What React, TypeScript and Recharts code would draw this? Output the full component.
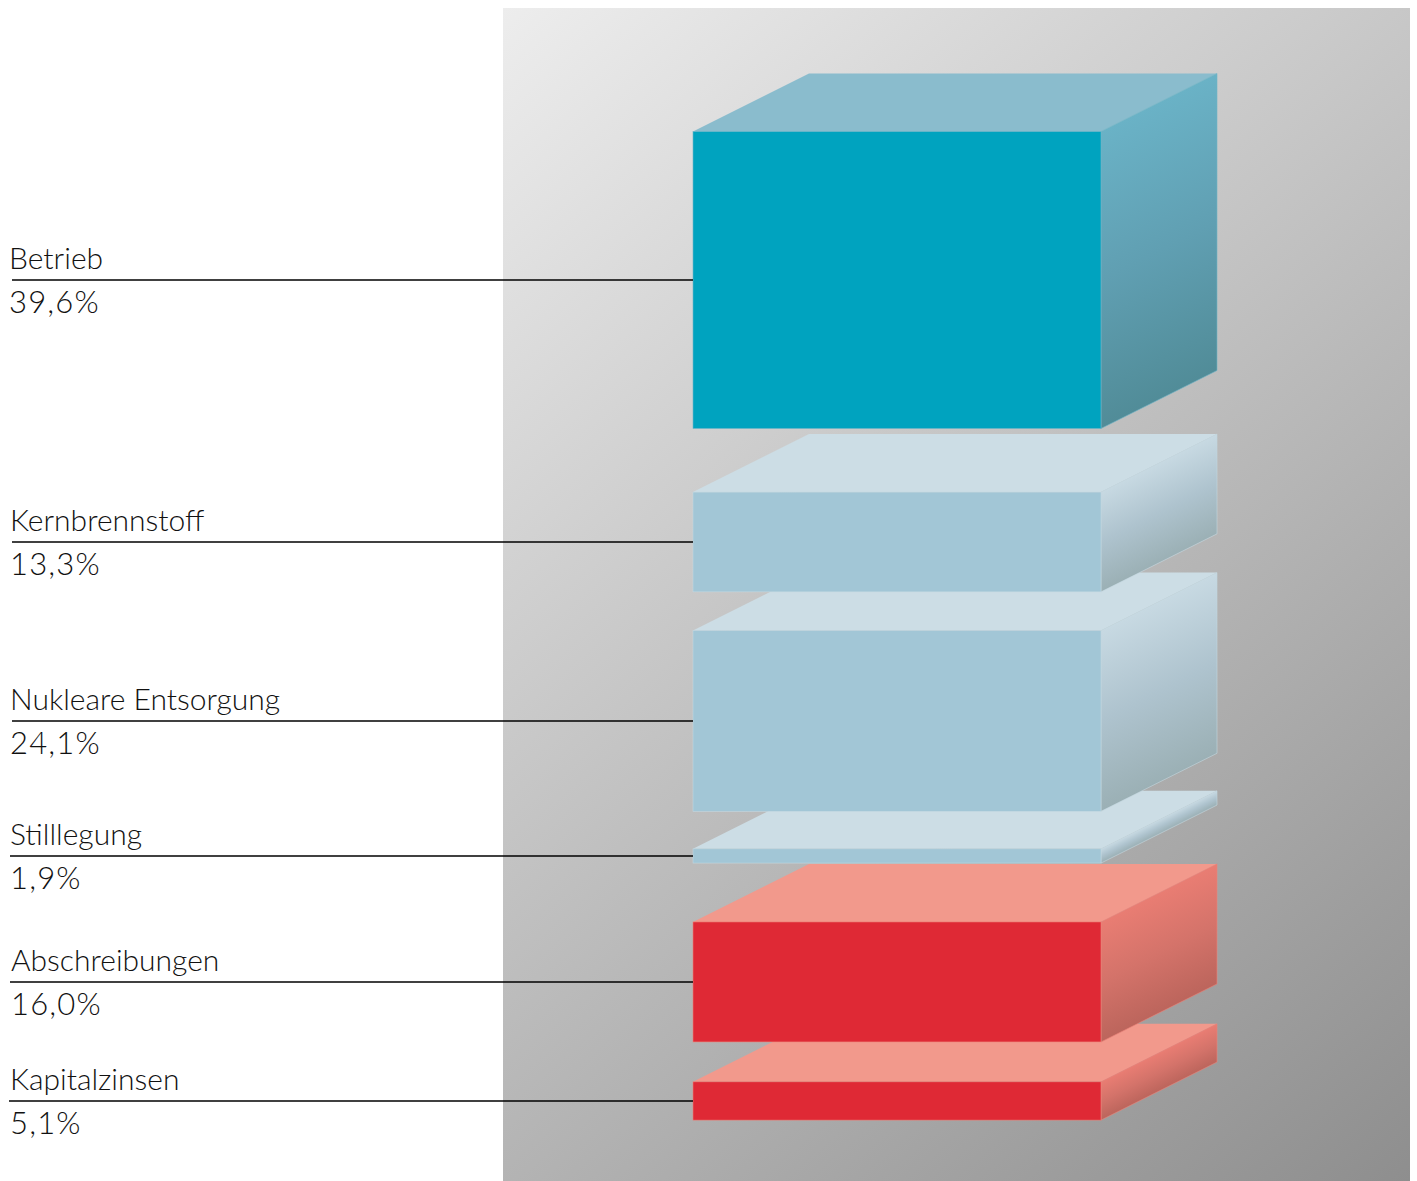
import { Bar, BarChart, XAxis, YAxis } from 'recharts';

// Cost shares, listed from the bottom of the stack upwards
const names = ['Kapitalzinsen', 'Abschreibungen', 'Stilllegung', 'Nukleare Entsorgung', 'Kernbrennstoff', 'Betrieb'];
const shares = [5.1, 16.0, 1.9, 24.1, 13.3, 39.6];
// Empty space left above each block, in the same units as the shares
const gaps = [5.32, 7.85, 5.0, 5.16, 8.48];
const families = ['red', 'red', 'pale', 'pale', 'pale', 'teal'];

const LABEL_LEFT = [10, 11, 10, 10, 10, 9];
const LINE_LEFT = [9, 10, 10, 12, 12, 12];

const palette: Record<string, { front: string; top: string; edge: string; stops: string[] }> = {
  teal: { front: '#00a3bf', top: '#8abccd', edge: '#6fb5c8', stops: ['#6ab2c6', '#609fb2', '#518c98'] },
  pale: { front: '#a2c6d6', top: '#ccdde5', edge: '#c4d8e1', stops: ['#c7d9e2', '#aec3ce', '#9bb0b5'] },
  red: { front: '#df2935', top: '#f2998c', edge: '#ec8378', stops: ['#e97d73', '#d4736a', '#bc655c'] },
};

const DEPTH_X = 116;
const DEPTH_Y = 58;
const FONT = 'Lato, sans-serif';

const row: Record<string, number | string> = { name: 'Stromkosten' };
names.forEach((n, i) => {
  row[n] = shares[i];
  if (i < gaps.length) row[`gap${i}`] = gaps[i];
});
const rows = [row];
const total = [...shares, ...gaps].reduce((a, b) => a + b, 0);

function formatShare(v: number) {
  return `${v.toFixed(1).replace('.', ',')}%`;
}

function Block(props: any, index: number) {
  const { x, y, width, height } = props;
  const c = palette[families[index]];
  const right = x + width;
  const bottom = y + height;
  const mid = y + height / 2;
  const left = LABEL_LEFT[index];
  const gradId = `side-${index}`;
  return (
    <g key={names[index]}>
      <defs>
        {/* runs across the side face, so the bands stay parallel to its sloped edges */}
        <linearGradient
          id={gradId}
          gradientUnits="userSpaceOnUse"
          x1={right}
          y1={y}
          x2={right + (height * 2) / 5}
          y2={y + (height * 4) / 5}
        >
          <stop offset="0" stopColor={c.stops[0]} />
          <stop offset="0.5" stopColor={c.stops[1]} />
          <stop offset="1" stopColor={c.stops[2]} />
        </linearGradient>
      </defs>
      <polygon
        points={`${x},${y} ${x + DEPTH_X},${y - DEPTH_Y} ${right + DEPTH_X},${y - DEPTH_Y} ${right},${y}`}
        fill={c.top}
      />
      <polygon
        points={`${right},${y} ${right + DEPTH_X},${y - DEPTH_Y} ${right + DEPTH_X},${bottom - DEPTH_Y} ${right},${bottom}`}
        fill={`url(#${gradId})`}
        stroke={c.edge}
        strokeWidth={0.6}
      />
      <rect x={x} y={y} width={width} height={height} fill={c.front} stroke={c.edge} strokeWidth={0.6} />
      <line x1={LINE_LEFT[index]} x2={x} y1={mid} y2={mid} stroke="#000" strokeWidth={1.6} />
      <text x={left} y={mid - 11} fontFamily={FONT} fontWeight={300} fontSize={30} fill="#111">
        {names[index]}
      </text>
      <text x={left} y={mid + 33} fontFamily={FONT} fontWeight={300} fontSize={31} letterSpacing={1.2} fill="#111">
        {formatShare(shares[index])}
      </text>
    </g>
  );
}

export default function App() {
  return (
    <div style={{ position: 'absolute', left: 0, top: 0, width: 1417, height: 1181, background: '#fff' }}>
      <div
        style={{
          position: 'absolute',
          left: 503,
          top: 8,
          width: 907,
          height: 1173,
          background: 'linear-gradient(140deg, #ededed, #8e8e8e)',
        }}
      />
      <div style={{ position: 'absolute', left: 0, top: 0 }}>
        <BarChart
          width={1417}
          height={1181}
          data={rows}
          barCategoryGap={0}
          margin={{ top: 131.5, bottom: 60.9, left: 693, right: 316 }}
        >
          <XAxis dataKey="name" hide />
          <YAxis type="number" domain={[0, total]} hide />
          {names.map((n, i) => [
            <Bar
              key={n}
              dataKey={n}
              stackId="costs"
              isAnimationActive={false}
              shape={(p: any) => Block(p, i)}
            />,
            i < gaps.length ? (
              <Bar key={`gap${i}`} dataKey={`gap${i}`} stackId="costs" fill="none" isAnimationActive={false} />
            ) : null,
          ])}
        </BarChart>
      </div>
    </div>
  );
}
